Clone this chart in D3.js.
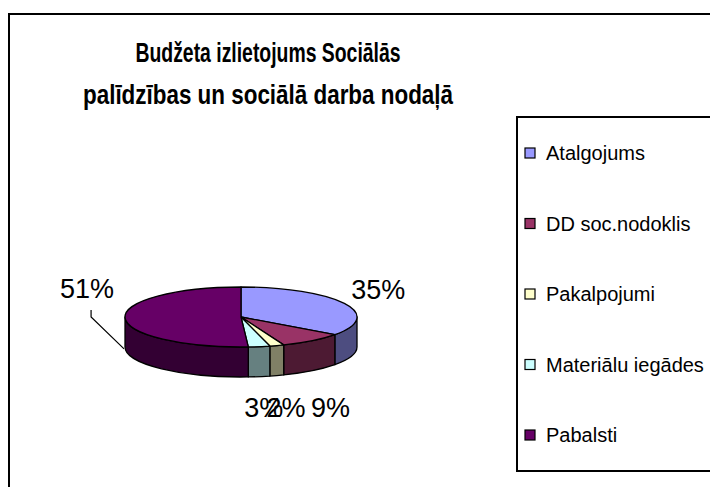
<!DOCTYPE html>
<html>
<head>
<meta charset="utf-8">
<script src="https://cdn.jsdelivr.net/npm/d3@7"></script>
<style>
  html, body { margin: 0; padding: 0; background: #fff; }
  svg { display: block; }
</style>
</head>
<body>
<div id="chart"></div>
<script>
// ---- data ----
const titleLines = ["Budžeta izlietojums Sociālās", "palīdzības un sociālā darba nodaļā"];
const categories = ["Atalgojums", "DD soc.nodoklis", "Pakalpojumi", "Materiālu iegādes", "Pabalsti"];
const values = [35, 9, 2, 3, 51];
const percentLabels = ["35%", "9%", "2%", "3%", "51%"];
const topColors = ["#9999FF", "#993366", "#FFFFCC", "#CCFFFF", "#660066"];
const sideColors = ["#4D4D80", "#4D1A33", "#808066", "#668080", "#330033"];

// ---- layout ----
const W = 710, H = 487;
const svg = d3.select("#chart").append("svg").attr("width", W).attr("height", H);
const font = "'Liberation Sans', Arial, sans-serif";

// outer chart frame (extends past the window edge)
svg.append("rect").attr("x", 9).attr("y", 14).attr("width", W).attr("height", H)
  .attr("fill", "#fff").attr("stroke", "#000").attr("stroke-width", 2);

// title (condensed, as in the reference)
const titleW = [265, 370];
svg.selectAll("text.title").data(titleLines).join("text")
  .attr("class", "title")
  .attr("x", 268).attr("y", (d, i) => 62 + i * 42)
  .attr("text-anchor", "middle")
  .attr("font-family", font).attr("font-weight", "bold").attr("font-size", 28)
  .attr("textLength", (d, i) => titleW[i]).attr("lengthAdjust", "spacingAndGlyphs")
  .text(d => d);

// ---- 3D pie ----
const cx = 241, cy = 317, rx = 116, ry = 30, depth = 30;
const pie = d3.pie().sort(null).value(d => d);
const arcs = pie(values);
const P = (a, dy = 0) => [cx + rx * Math.sin(a), cy - ry * Math.cos(a) + dy];

function topPath(d) {
  const [x0, y0] = P(d.startAngle), [x1, y1] = P(d.endAngle);
  const large = (d.endAngle - d.startAngle) > Math.PI ? 1 : 0;
  return `M${cx},${cy}L${x0},${y0}A${rx},${ry} 0 ${large} 1 ${x1},${y1}Z`;
}
function sidePath(d) {
  const s = Math.max(d.startAngle, Math.PI / 2), e = Math.min(d.endAngle, 3 * Math.PI / 2);
  if (e <= s) return null;
  const [x0, y0] = P(s), [x1, y1] = P(e);
  return `M${x0},${y0}A${rx},${ry} 0 0 1 ${x1},${y1}L${x1},${y1 + depth}A${rx},${ry} 0 0 0 ${x0},${y0 + depth}Z`;
}

const g = svg.append("g");
g.selectAll("path.side").data(arcs.filter(d => sidePath(d))).join("path")
  .attr("class", "side")
  .attr("d", sidePath)
  .attr("fill", d => sideColors[d.index])
  .attr("stroke", "#000").attr("stroke-width", 1.3).attr("stroke-linejoin", "round");
g.selectAll("path.top").data(arcs).join("path")
  .attr("class", "top")
  .attr("d", topPath)
  .attr("fill", d => topColors[d.index])
  .attr("stroke", "#000").attr("stroke-width", 1.3).attr("stroke-linejoin", "round");

// ---- data labels ----
const labelFont = 27;
function labelPos(d) {
  const m = (d.startAngle + d.endAngle) / 2;
  const front = Math.cos(m) < -0.2;           // label falls below the pie
  const x = cx + (rx + (front ? 30 : 38)) * Math.sin(m);
  const y = front ? cy + ry + depth + 31 : cy - (ry + 30) * Math.cos(m);
  return [x, y, m];
}
const moved = 4; // Pabalsti label was lifted above its slice, with a leader line
const lab = arcs.map(d => {
  let [x, y, m] = labelPos(d);
  if (d.index === moved) y -= 30;
  return { d, x, y, m };
});
svg.selectAll("text.lab").data(lab).join("text")
  .attr("class", "lab")
  .attr("x", l => l.x).attr("y", l => l.y)
  .attr("text-anchor", "middle").attr("dominant-baseline", "central")
  .attr("font-family", font).attr("font-size", labelFont)
  .text(l => percentLabels[l.d.index]);

// leader line for moved label
const ml = lab[moved];
const edge = P(ml.m, depth + 1);
svg.append("path")
  .attr("d", d3.line()([[ml.x + 4, ml.y + 21], [ml.x + 4, ml.y + 28], [edge[0] - 1, edge[1]]]))
  .attr("fill", "none").attr("stroke", "#000").attr("stroke-width", 1.2);

// ---- legend ----
svg.append("rect").attr("x", 517).attr("y", 117).attr("width", W).attr("height", 354)
  .attr("fill", "#fff").attr("stroke", "#000").attr("stroke-width", 2);
const lg = svg.selectAll("g.leg").data(categories).join("g")
  .attr("class", "leg")
  .attr("transform", (d, i) => `translate(525, ${153 + i * 70.5})`);
lg.append("rect").attr("x", 0).attr("y", -5).attr("width", 10).attr("height", 10)
  .attr("fill", (d, i) => topColors[i]).attr("stroke", "#000").attr("stroke-width", 1.2);
lg.append("text").attr("x", 21).attr("y", 0).attr("dominant-baseline", "central")
  .attr("font-family", font).attr("font-size", 20)
  .text(d => d);
</script>
</body>
</html>
